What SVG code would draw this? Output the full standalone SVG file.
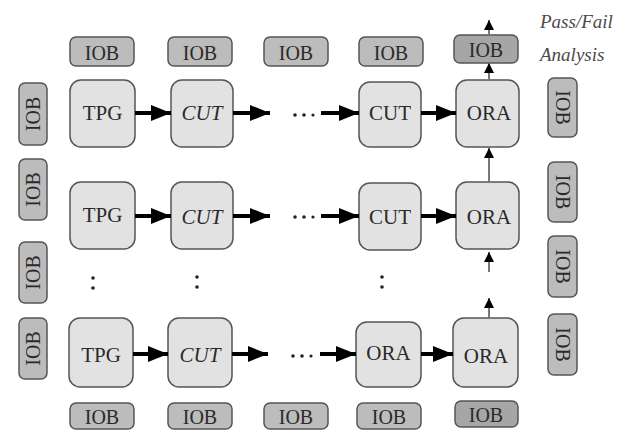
<svg xmlns="http://www.w3.org/2000/svg" width="624" height="430" viewBox="0 0 624 430">
<style>
.iob rect{fill:#bcbcbc;stroke:#555;stroke-width:1.5}
.iob.dark rect{fill:#a6a6a6}
.blk rect{fill:#e2e2e2;stroke:#555;stroke-width:1.5}
text{font-family:"Liberation Serif","Times New Roman",serif;fill:#2a2a2a;text-anchor:middle}
.ti{font-size:20px}
.tb{font-size:21px}
.it{font-style:italic}
.note{font-family:"Liberation Serif",serif;font-style:italic;font-size:19px;fill:#4a4a4a;text-anchor:start}
.h{stroke:#000;stroke-width:4;fill:none;marker-end:url(#ah)}
.v{stroke:#777;stroke-width:2;fill:none;marker-end:url(#av)}
.dot{fill:#222}
</style>
<defs>
<marker id="ah" markerUnits="userSpaceOnUse" markerWidth="21" markerHeight="18" refX="20" refY="9" orient="auto">
<path d="M0,1 L20,9 L0,17 z" fill="#000"/>
</marker>
<marker id="av" markerUnits="userSpaceOnUse" markerWidth="11" markerHeight="11" refX="10" refY="5.5" orient="auto">
<path d="M0,0.5 L10,5.5 L0,10.5 z" fill="#000"/>
</marker>
</defs>
<rect width="624" height="430" fill="#fff"/>

<!-- top IOBs -->
<g id="iob-t1" class="iob"><rect x="70" y="37" width="64" height="29" rx="6"/><text class="ti" x="102" y="60">IOB</text></g>
<g id="iob-t2" class="iob"><rect x="168" y="37" width="64" height="29" rx="6"/><text class="ti" x="200" y="60">IOB</text></g>
<g id="iob-t3" class="iob"><rect x="264" y="37" width="64" height="29" rx="6"/><text class="ti" x="296" y="60">IOB</text></g>
<g id="iob-t4" class="iob"><rect x="359" y="37" width="64" height="29" rx="6"/><text class="ti" x="391" y="60">IOB</text></g>
<g id="iob-t5" class="iob dark"><rect x="454" y="35" width="64" height="28" rx="6"/><text class="ti" x="486" y="57">IOB</text></g>

<!-- bottom IOBs -->
<g id="iob-b1" class="iob"><rect x="70" y="403" width="64" height="26" rx="6"/><text class="ti" x="102" y="424">IOB</text></g>
<g id="iob-b2" class="iob"><rect x="168" y="403" width="64" height="26" rx="6"/><text class="ti" x="200" y="424">IOB</text></g>
<g id="iob-b3" class="iob"><rect x="264" y="403" width="64" height="26" rx="6"/><text class="ti" x="296" y="424">IOB</text></g>
<g id="iob-b4" class="iob"><rect x="357" y="403" width="64" height="26" rx="6"/><text class="ti" x="389" y="424">IOB</text></g>
<g id="iob-b5" class="iob dark"><rect x="455" y="401" width="63" height="26" rx="6"/><text class="ti" x="486" y="422">IOB</text></g>

<!-- left IOBs -->
<g id="iob-l1" class="iob"><rect x="19" y="83" width="28" height="62" rx="6"/><text class="ti" transform="translate(40,114) rotate(-90)">IOB</text></g>
<g id="iob-l2" class="iob"><rect x="19" y="159" width="28" height="61" rx="6"/><text class="ti" transform="translate(40,189.5) rotate(-90)">IOB</text></g>
<g id="iob-l3" class="iob"><rect x="19" y="242" width="28" height="61" rx="6"/><text class="ti" transform="translate(40,272.5) rotate(-90)">IOB</text></g>
<g id="iob-l4" class="iob"><rect x="19" y="318" width="28" height="61" rx="6"/><text class="ti" transform="translate(40,348.5) rotate(-90)">IOB</text></g>

<!-- right IOBs -->
<g id="iob-r1" class="iob"><rect x="548" y="78" width="29" height="59" rx="6"/><text class="ti" transform="translate(555.5,107.5) rotate(90)">IOB</text></g>
<g id="iob-r2" class="iob"><rect x="548" y="162" width="29" height="60" rx="6"/><text class="ti" transform="translate(555.5,192) rotate(90)">IOB</text></g>
<g id="iob-r3" class="iob"><rect x="548" y="236" width="29" height="61" rx="6"/><text class="ti" transform="translate(555.5,266.5) rotate(90)">IOB</text></g>
<g id="iob-r4" class="iob"><rect x="548" y="314" width="29" height="61" rx="6"/><text class="ti" transform="translate(555.5,344.5) rotate(90)">IOB</text></g>

<!-- row 1 -->
<g id="tpg1" class="blk"><rect x="70" y="80" width="65" height="67" rx="11"/><text class="tb" x="102.5" y="120">TPG</text></g>
<g id="cut1" class="blk"><rect x="171" y="80" width="62" height="67" rx="11"/><text class="tb it" x="202" y="120">CUT</text></g>
<g id="cutn1" class="blk"><rect x="359" y="82" width="62" height="65" rx="11"/><text class="tb" x="390" y="120">CUT</text></g>
<g id="ora1" class="blk"><rect x="456" y="80" width="63" height="67" rx="11"/><text class="tb" x="489" y="120">ORA</text></g>

<!-- row 2 -->
<g id="tpg2" class="blk"><rect x="70" y="182" width="65" height="67" rx="11"/><text class="tb" x="102.5" y="222">TPG</text></g>
<g id="cut2" class="blk"><rect x="171" y="182" width="62" height="67" rx="11"/><text class="tb it" x="202" y="224">CUT</text></g>
<g id="cutn2" class="blk"><rect x="359" y="183" width="62" height="67" rx="11"/><text class="tb" x="390" y="224">CUT</text></g>
<g id="ora2" class="blk"><rect x="456" y="182" width="63" height="67" rx="11"/><text class="tb" x="489" y="224">ORA</text></g>

<!-- row 3 -->
<g id="tpg3" class="blk"><rect x="69" y="318" width="64" height="69" rx="11"/><text class="tb" x="101" y="362">TPG</text></g>
<g id="cut3" class="blk"><rect x="168" y="318" width="64" height="69" rx="11"/><text class="tb it" x="200" y="362">CUT</text></g>
<g id="oran3" class="blk"><rect x="356" y="322" width="65" height="65" rx="11"/><text class="tb" x="388.5" y="360">ORA</text></g>
<g id="ora3" class="blk"><rect x="453" y="318" width="65" height="69" rx="11"/><text class="tb" x="486" y="363">ORA</text></g>

<!-- connectors -->
<g id="connectors">
<line class="h" x1="135" y1="113" x2="171" y2="113"/>
<line class="h" x1="233" y1="113" x2="270" y2="113"/>
<line class="h" x1="321" y1="113" x2="359" y2="113"/>
<line class="h" x1="421" y1="113" x2="456" y2="113"/>

<line class="h" x1="135" y1="216" x2="171" y2="216"/>
<line class="h" x1="233" y1="216" x2="270" y2="216"/>
<line class="h" x1="321" y1="216" x2="359" y2="216"/>
<line class="h" x1="421" y1="216" x2="456" y2="216"/>

<line class="h" x1="133" y1="354" x2="168" y2="354"/>
<line class="h" x1="232" y1="354" x2="268" y2="354"/>
<line class="h" x1="320" y1="354" x2="356" y2="354"/>
<line class="h" x1="421" y1="354" x2="453" y2="354"/>

<line class="v" x1="489" y1="35" x2="489" y2="20"/>
<line class="v" x1="489" y1="80" x2="489" y2="63"/>
<line class="v" x1="489" y1="182" x2="489" y2="148"/>
<line class="v" x1="489" y1="272" x2="489" y2="252"/>
<line class="v" x1="489" y1="318" x2="489" y2="298"/>
</g>

<!-- ellipsis dots -->
<g id="dots">
<circle class="dot" cx="295" cy="115" r="1.8"/><circle class="dot" cx="304" cy="115" r="1.8"/><circle class="dot" cx="313" cy="115" r="1.6"/>
<circle class="dot" cx="295" cy="217" r="1.8"/><circle class="dot" cx="304" cy="217" r="1.8"/><circle class="dot" cx="313" cy="217" r="1.6"/>
<circle class="dot" cx="293" cy="356" r="1.8"/><circle class="dot" cx="302" cy="356" r="1.8"/><circle class="dot" cx="311" cy="356" r="1.6"/>
<circle class="dot" cx="93" cy="278" r="1.8"/><circle class="dot" cx="93" cy="288" r="1.8"/>
<circle class="dot" cx="197" cy="277" r="1.8"/><circle class="dot" cx="197" cy="287" r="1.8"/>
<circle class="dot" cx="382" cy="277" r="1.8"/><circle class="dot" cx="382" cy="287" r="1.8"/>
</g>

<text class="note" x="540" y="28">Pass/Fail</text>
<text class="note" x="540" y="61">Analysis</text>
</svg>
